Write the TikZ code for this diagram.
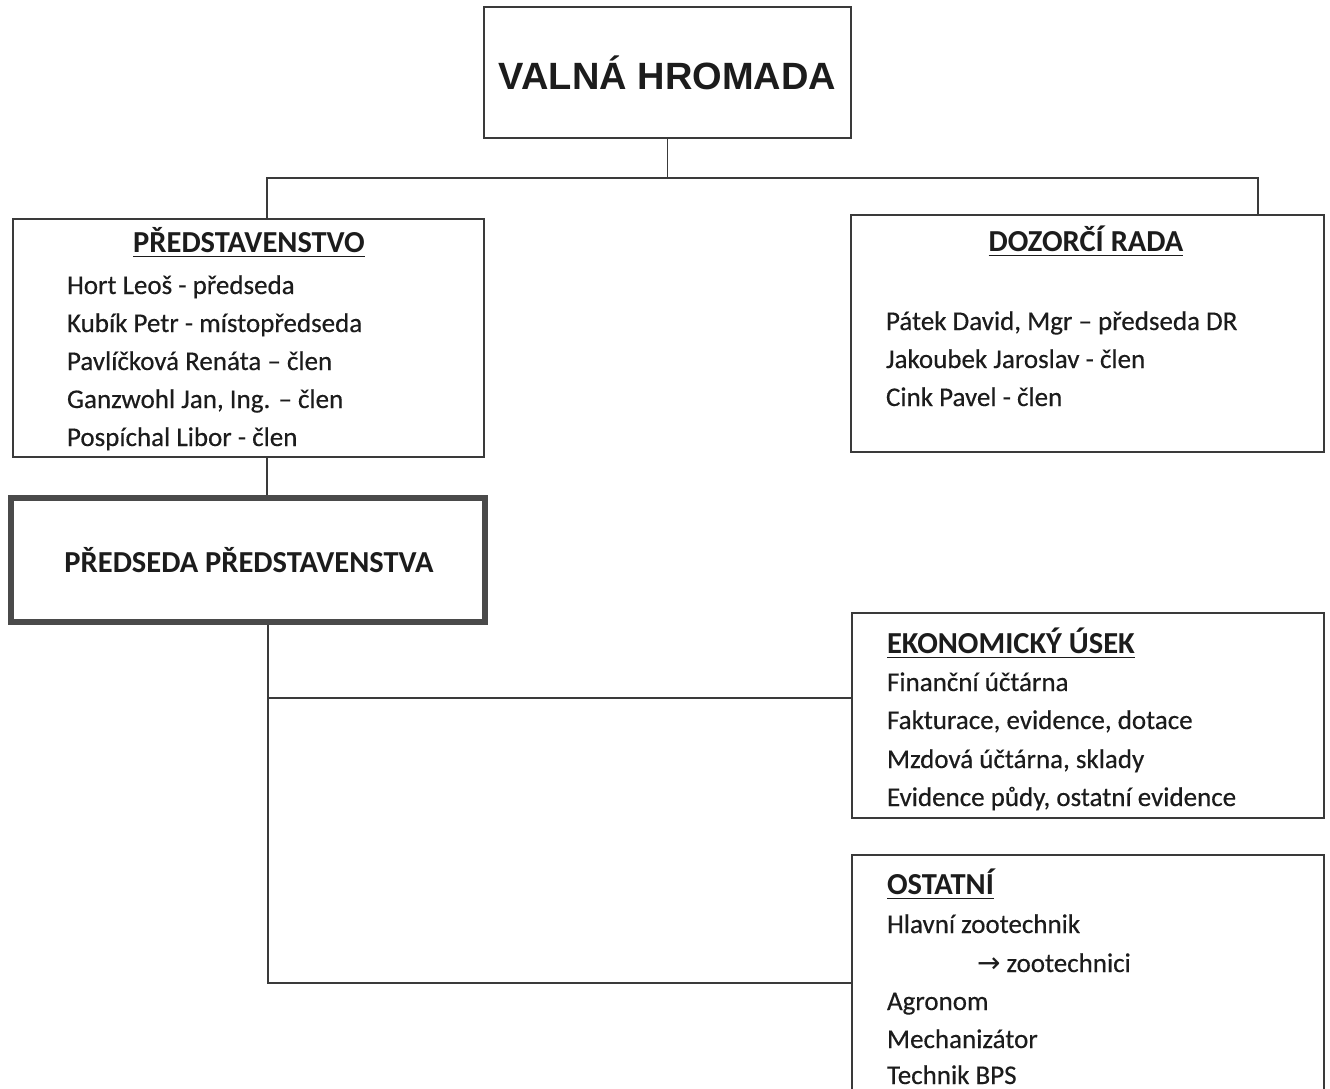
\documentclass[tikz,border=0pt]{standalone}
\usepackage{fontspec}
\setmainfont{Carlito}
\newfontfamily\bodyf{Carlito}[FakeBold=0.35]
\newfontfamily\arialf{Liberation Sans}
\newfontfamily\symf{DejaVu Sans}
\definecolor{linec}{HTML}{3A3A3A}
\definecolor{txtc}{HTML}{1C1C1C}
\definecolor{thickc}{HTML}{4A4A4A}
\begin{document}
\begin{tikzpicture}[x=1pt,y=-1pt,
  box/.style={draw=linec, line width=1.1pt, inner sep=0pt, outer sep=0pt},
  thickbox/.style={draw=thickc, line width=6pt, inner sep=0pt},
  txt/.style={inner sep=0pt, outer sep=0pt, text=txtc, font=\bodyf\fontsize{27}{32}\selectfont},
  ttl/.style={inner sep=0pt, outer sep=0pt, text=txtc, font=\fontsize{30.5}{36}\selectfont\bfseries},
  conn/.style={draw=linec, line width=1.1pt},
  ul/.style={draw=txtc, line width=1.9pt}]
\useasboundingbox (0,0) rectangle (1330,1089);
\clip (0,0) rectangle (1330,1089);
\fill[white] (0,0) rectangle (1330,1089);

% boxes
\node[box, minimum width=367pt, minimum height=131pt] (vh) at (667.5,72.5) {};
\node[box, minimum width=471pt, minimum height=238pt] (pr) at (248.5,338) {};
\node[box, minimum width=473pt, minimum height=237pt] (dr) at (1087.5,333.5) {};
\node[thickbox, minimum width=474pt, minimum height=124pt] (pp) at (248,560) {};
\node[box, minimum width=472pt, minimum height=205pt] (ek) at (1088,715.5) {};
\node[box, minimum width=472pt, minimum height=255pt] (os) at (1088,982.5) {};

% texts
\node[inner sep=0pt, text=txtc, font=\arialf\bfseries\fontsize{38}{44}\selectfont, anchor=base] (vht) at (667.5,90) {VALNÁ HROMADA};

\node[ttl, anchor=base] (prt) at (249,252) {PŘEDSTAVENSTVO};
\node[txt, anchor=base west] (pr1) at (67,294) {Hort Leoš - předseda};
\node[txt, anchor=base west] (pr2) at (67,332) {Kubík Petr - místopředseda};
\node[txt, anchor=base west] (pr3) at (67,370) {Pavlíčková Renáta – člen};
\node[txt, anchor=base west] (pr4) at (67,408) {Ganzwohl Jan, Ing. – člen};
\node[txt, anchor=base west] (pr5) at (67,446) {Pospíchal Libor - člen};

\node[ttl, anchor=base] (drt) at (1086,251) {DOZORČÍ RADA};
\node[txt, anchor=base west] (dr1) at (886,330) {Pátek David, Mgr – předseda DR};
\node[txt, anchor=base west] (dr2) at (886,368) {Jakoubek Jaroslav - člen};
\node[txt, anchor=base west] (dr3) at (886,406) {Cink Pavel - člen};

\node[ttl, anchor=base] (ppt) at (249,572) {PŘEDSEDA PŘEDSTAVENSTVA};

\node[ttl, anchor=base west] (ekt) at (887,653) {EKONOMICKÝ ÚSEK};
\node[txt, anchor=base west] (ek1) at (887,691) {Finanční účtárna};
\node[txt, anchor=base west] (ek2) at (887,729) {Fakturace, evidence, dotace};
\node[txt, anchor=base west] (ek3) at (887,768) {Mzdová účtárna, sklady};
\node[txt, anchor=base west] (ek4) at (887,806) {Evidence půdy, ostatní evidence};

\node[ttl, anchor=base west] (ost) at (887,894) {OSTATNÍ};
\node[txt, anchor=base west] (os1) at (887,933) {Hlavní zootechnik};
\node[txt, anchor=base west] (os2) at (977,972) {{\symf\fontsize{28}{30}\selectfont →}\hspace{6pt}zootechnici};
\node[txt, anchor=base west] (os3) at (887,1010) {Agronom};
\node[txt, anchor=base west] (os4) at (887,1048) {Mechanizátor};
\node[txt, anchor=base west] (os5) at (887,1084) {Technik BPS};

% underlines of the titles
\foreach \t in {prt,drt,ekt,ost}
  \draw[ul] ([yshift=-4.5pt]\t.base west) -- ([yshift=-4.5pt]\t.base east);

% connectors
\coordinate (jl) at (267,178);
\coordinate (jr) at (1258,178);
\coordinate (b1) at (268,698);
\coordinate (b2) at (268,983);
\draw[conn] (vh.south) -- (vh.south |- jl);
\draw[conn] (jl |- pr.north) -- (jl) -- (jr) -- (jr |- dr.north);
\draw[conn] (jl |- pr.south) -- (jl |- pp.north);
\draw[conn] (b1 |- pp.south) -- (b2) -- (b2 -| os.west);
\draw[conn] (b1) -- (b1 -| ek.west);
\end{tikzpicture}
\end{document}
